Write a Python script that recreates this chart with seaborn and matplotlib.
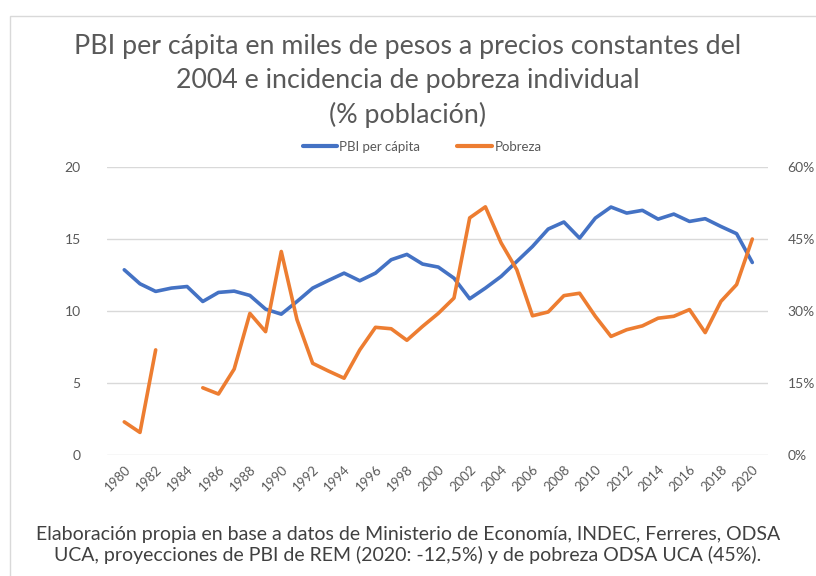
import numpy as np
import pandas as pd
import matplotlib
matplotlib.use("Agg")
import matplotlib.pyplot as plt
import matplotlib.patches as mpatches
from matplotlib.lines import Line2D
from matplotlib.ticker import FuncFormatter
import seaborn as sns

# Datos
anios = list(range(1980, 2021))
pbi_pc = [12.86, 11.89, 11.36, 11.59, 11.70, 10.66, 11.29, 11.38, 11.08, 10.13,
          9.78, 10.66, 11.59, 12.12, 12.63, 12.10, 12.63, 13.56, 13.93, 13.26,
          13.05, 12.28, 10.85, 11.59, 12.40, 13.44, 14.48, 15.69, 16.18, 15.06,
          16.45, 17.22, 16.80, 16.99, 16.38, 16.73, 16.22, 16.41, 15.87, 15.37,
          13.37]
pobreza = [6.9, 4.7, 21.9, np.nan, np.nan, 14.0, 12.7, 17.9, 29.5, 25.7,
           42.4, 28.2, 19.1, 17.5, 16.0, 21.9, 26.6, 26.3, 23.9, 26.8,
           29.5, 32.7, 49.4, 51.7, 44.2, 38.6, 29.0, 29.8, 33.2, 33.7,
           28.9, 24.7, 26.1, 26.9, 28.5, 28.9, 30.3, 25.5, 32.0, 35.5,
           45.0]

titulo = "PBI per cápita en miles de pesos a precios constantes del\n2004 e incidencia de pobreza individual\n(% población)"
nota = ("Elaboración propia en base a datos de Ministerio de Economía, INDEC, Ferreres, ODSA\n"
        "UCA, proyecciones de PBI de REM (2020: -12,5%) y de pobreza ODSA UCA (45%).")

azul = "#4472c4"
naranja = "#ed7d31"
gris = "#595959"

df = pd.DataFrame({"anio": anios, "pbi": pbi_pc, "pobreza": pobreza})
# tramos continuos de pobreza (hay huecos en 1983-1984)
df["tramo"] = df["pobreza"].isna().cumsum()
pob = df.dropna(subset=["pobreza"])

sns.set_style("white")
plt.rcParams["font.family"] = ["Lato", "DejaVu Sans"]

fig = plt.figure(figsize=(8.16, 5.76), dpi=100)
ax = fig.add_axes([107 / 816, 1 - 455 / 576, (768 - 107) / 816, (455 - 167) / 576])
ax2 = ax.twinx()

sns.lineplot(data=df, x="anio", y="pbi", ax=ax, color=azul, linewidth=2.6)
sns.lineplot(data=pob, x="anio", y="pobreza", units="tramo", estimator=None,
             ax=ax2, color=naranja, linewidth=2.6)

ax.set_ylim(0, 20)
ax2.set_ylim(0, 60)
ax.set_xlim(1978.9, 2021.0)
ax.set_yticks([0, 5, 10, 15, 20])
ax2.set_yticks([0, 15, 30, 45, 60])
ax2.yaxis.set_major_formatter(FuncFormatter(lambda v, p: f"{v:.0f}%"))
ax.set_xticks(anios[::2])
ax.set_xticklabels([str(a) for a in anios[::2]], rotation=45, ha="right",
                   rotation_mode="anchor")

for a in (ax, ax2):
    a.set_xlabel("")
    a.set_ylabel("")
    for s in a.spines.values():
        s.set_visible(False)
    a.tick_params(length=0, labelsize=10, labelcolor=gris)
ax.tick_params(axis="x", labelsize=9.5, pad=6)
ax.tick_params(axis="y", pad=19)
ax2.tick_params(axis="y", pad=14)
ax.grid(axis="y", color="#d9d9d9", linewidth=1)
ax.set_axisbelow(True)

# marco del grafico
fig.patches.append(mpatches.Rectangle((10 / 816, -0.01), 1.0, 1 - 16 / 576 + 0.01,
                                      transform=fig.transFigure, fill=False,
                                      edgecolor="#d9d9d9", linewidth=1))

fig.text(0.5, 1 - 81 / 576, titulo, ha="center", va="center", fontsize=19.3,
         color=gris, linespacing=1.42)

handles = [Line2D([], [], color=azul, linewidth=3), Line2D([], [], color=naranja, linewidth=3)]
fig.legend(handles, ["PBI per cápita", "Pobreza"], loc="center",
           bbox_to_anchor=(422 / 816, 1 - 147 / 576), ncol=2, frameon=False,
           fontsize=9.5, handlelength=2.6, handletextpad=0.2, columnspacing=2.8,
           labelcolor=gris)

fig.text(0.5, 1 - 545 / 576, nota, ha="center", va="center", fontsize=14,
         color="#404040", linespacing=1.25)

fig.savefig("out.png", dpi=100)
